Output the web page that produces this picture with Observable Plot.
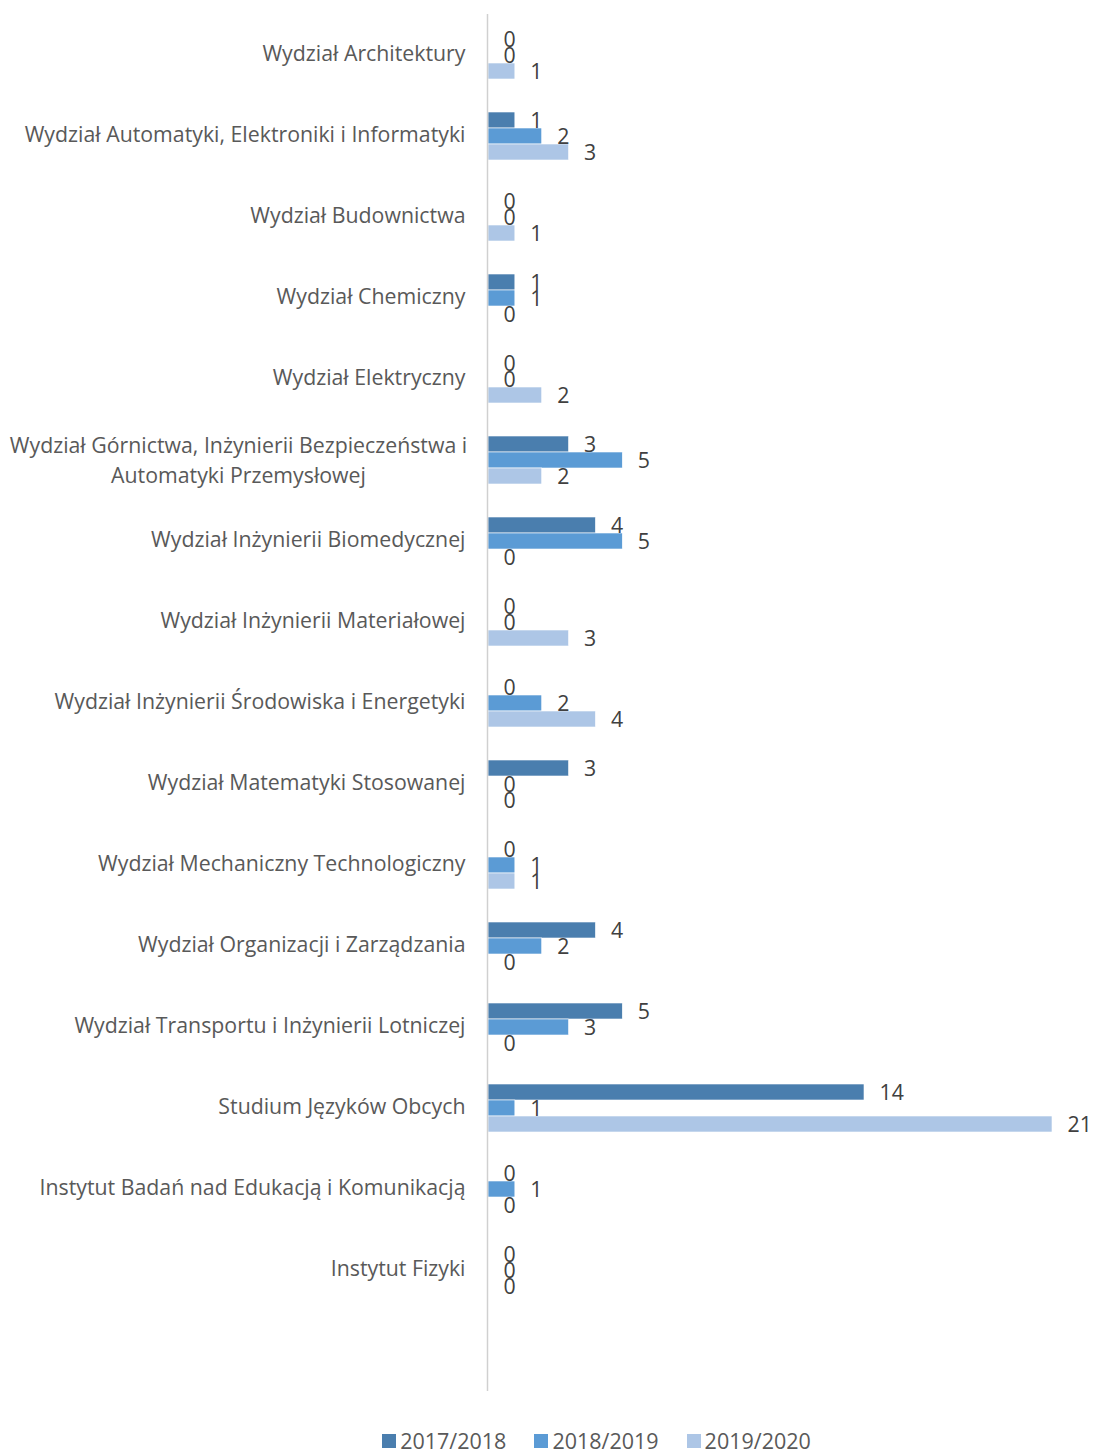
<!DOCTYPE html>
<html>
<head>
<meta charset="utf-8">
<script src="https://cdn.jsdelivr.net/npm/d3@7"></script>
<script src="https://cdn.jsdelivr.net/npm/@observablehq/plot@0.6"></script>
<style>
  body { margin: 0; background: #fff; font-family: "Open Sans", sans-serif; }
  #chart { width: 1095px; }
  .legend { display: flex; justify-content: center; gap: 28px; margin-top: 24px; margin-left: 98px; font-size: 21.5px; color: #595959; line-height: 24px; }
  .legend span.item { display: inline-flex; align-items: center; }
  .legend span.sw { width: 14px; height: 14px; display: inline-block; margin-right: 4px; }
</style>
</head>
<body>
<div id="chart"></div>
<script>
const categories = [
  "Wydział Architektury",
  "Wydział Automatyki, Elektroniki i Informatyki",
  "Wydział Budownictwa",
  "Wydział Chemiczny",
  "Wydział Elektryczny",
  "Wydział Górnictwa, Inżynierii Bezpieczeństwa i Automatyki Przemysłowej",
  "Wydział Inżynierii Biomedycznej",
  "Wydział Inżynierii Materiałowej",
  "Wydział Inżynierii Środowiska i Energetyki",
  "Wydział Matematyki Stosowanej",
  "Wydział Mechaniczny Technologiczny",
  "Wydział Organizacji i Zarządzania",
  "Wydział Transportu i Inżynierii Lotniczej",
  "Studium Języków Obcych",
  "Instytut Badań nad Edukacją i Komunikacją",
  "Instytut Fizyki",
  ""
];
const wrappedLabel = {
  "Wydział Górnictwa, Inżynierii Bezpieczeństwa i Automatyki Przemysłowej":
    "Wydział Górnictwa, Inżynierii Bezpieczeństwa i\nAutomatyki Przemysłowej"
};
const series = ["2017/2018", "2018/2019", "2019/2020"];
const colors = ["#4a7eae", "#5b9bd5", "#adc6e6"];
const v2017 = [0, 1, 0, 1, 0, 3, 4, 0, 0, 3, 0, 4, 5, 14, 0, 0];
const v2018 = [0, 2, 0, 1, 0, 5, 5, 0, 2, 0, 1, 2, 3, 1, 1, 0];
const v2019 = [1, 3, 1, 0, 2, 2, 0, 3, 4, 0, 1, 0, 0, 21, 0, 0];

const valuesBySeries = [v2017, v2018, v2019];
const data = [];
categories.slice(0, 16).forEach((c, i) => {
  series.forEach((s, j) => data.push({category: c, series: s, value: valuesBySeries[j][i]}));
});

const labelData = categories.filter(c => c !== "").map(c => ({category: c, label: wrappedLabel[c] || c, wrapped: !!wrappedLabel[c]}));

const FS = 21.3;
const chart = Plot.plot({
  width: 1095,
  height: 1405,
  marginLeft: 488,
  marginRight: 43,
  marginTop: 12,
  marginBottom: 13,
  style: {fontFamily: "'Open Sans', sans-serif", fontSize: FS + "px", color: "#595959"},
  x: {domain: [0, 21], axis: null},
  fy: {domain: categories, padding: 0, axis: null},
  y: {domain: series, paddingInner: 0, paddingOuter: 0.93, axis: null},
  color: {domain: series, range: colors},
  marks: [
    Plot.barX(data, {x: "value", y: "series", fy: "category", fill: "series", stroke: "#fff", strokeWidth: 0.6}),
    Plot.ruleX(categories, {x: 0, fy: d => d, stroke: "#d0d0d0", strokeWidth: 1.5, dx: -1}),
    Plot.text(data, {x: "value", y: "series", fy: "category", text: d => String(d.value), textAnchor: "start", dx: 15, dy: 1, fill: "#404040", fontSize: FS}),
    Plot.text(labelData.filter(d => !d.wrapped), {fy: "category", text: "label", frameAnchor: "left", textAnchor: "end", dx: -23, dy: -1, fill: "#595959", fontSize: FS}),
    Plot.text(labelData.filter(d => d.wrapped), {fy: "category", text: "label", frameAnchor: "left", textAnchor: "middle", dx: -250, dy: -2, lineHeight: 1.41, fill: "#595959", fontSize: FS})
  ]
});
document.getElementById("chart").appendChild(chart);

const legend = document.createElement("div");
legend.className = "legend";
series.forEach((s, i) => {
  const item = document.createElement("span");
  item.className = "item";
  const sw = document.createElement("span");
  sw.className = "sw";
  sw.style.background = colors[i];
  item.appendChild(sw);
  item.appendChild(document.createTextNode(s));
  legend.appendChild(item);
});
document.body.appendChild(legend);
</script>
</body>
</html>
